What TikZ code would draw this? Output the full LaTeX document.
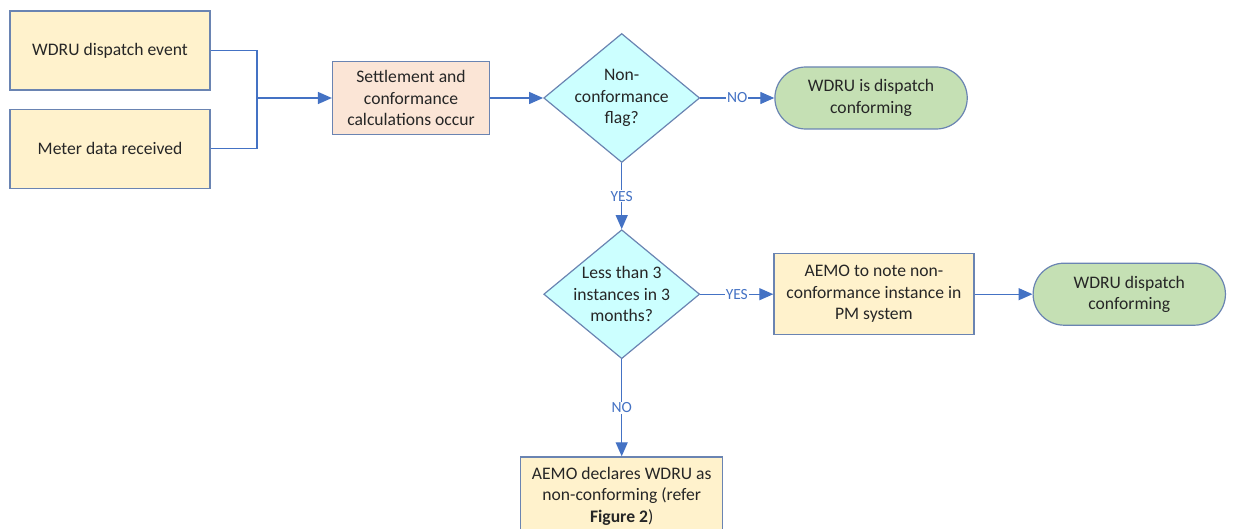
\documentclass[tikz,border=0pt]{standalone}
\usepackage{fontspec}
\setmainfont{Carlito}
\usetikzlibrary{positioning,shapes,arrows.meta}
\usepackage{xcolor}
\definecolor{edgeblue}{HTML}{4472C4}
\definecolor{boxline}{HTML}{6A84B2}
\definecolor{boxfill}{HTML}{FFF2CC}
\definecolor{calcfill}{HTML}{FBE5D6}
\definecolor{flagfill}{HTML}{CCFFFF}
\definecolor{endfill}{HTML}{C5E0B4}
\tikzset{
    box/.style={rectangle, draw=boxline, line width=1.2pt, fill=boxfill, align=center, inner sep=2pt},
    calc/.style={box, fill=calcfill},
    decision/.style={diamond, draw=boxline, line width=1.2pt, fill=flagfill, align=center,
        shape aspect=1.2, inner sep=-8pt, minimum width=156pt, minimum height=129pt},
    terminal/.style={rounded rectangle, draw=boxline, line width=1.2pt, fill=endfill, align=center,
        minimum width=199pt, minimum height=62pt},
    flow/.style={draw=edgeblue, line width=1.3pt, -{Triangle[length=14pt,width=12pt]}},
    lbl/.style={fill=white, text=edgeblue, font=\fontsize{15.5}{17}\selectfont, inner sep=1pt}
}

\begin{document}
    \begin{tikzpicture}[x=1pt, y=-1pt, font=\fontsize{17.6}{21.5}\selectfont, text=black!85]
        \useasboundingbox (0,0) rectangle (1238,529);
        \clip (0,0) rectangle (1238,529);
        \node (event) [box, minimum width=200pt, minimum height=79pt] at (110,50.5) {WDRU dispatch event};
        \node (meter) [box, minimum width=200pt, minimum height=79pt, below=18pt of event] {Meter data received};
        \coordinate (join) at (257,98);
        \node (settle) [calc, minimum width=157pt, minimum height=73pt] at (411,98) {Settlement and\\conformance\\calculations occur};
        \node (flag) [decision, right=53pt of settle] {Non-\\conformance\\flag?};
        \node (ok) [terminal, right=74pt of flag] {WDRU is dispatch\\conforming};
        \node (count) [decision, below=66pt of flag] {Less than 3\\instances in 3\\months?};
        \node (note) [box, minimum width=200pt, minimum height=81pt, right=73pt of count] {AEMO to note non-\\conformance instance in\\PM system};
        \node (done) [terminal, right=58pt of note] {WDRU dispatch\\conforming};
        \node (declare) [box, minimum width=202pt, minimum height=78pt, below=97pt of count] {AEMO declares WDRU as\\non-conforming (refer\\\textbf{Figure 2})};
        \draw[flow, -] (event.east) -| (join);
        \draw[flow, -] (meter.east) -| (join);
        \draw[flow] (join) -- (settle);
        \draw[flow]
        (settle) edge[flow] (flag)
        (flag) edge[flow] node[lbl] {NO} (ok)
        (flag) edge[flow] node[lbl] {YES} (count)
        (count) edge[flow] node[lbl] {YES} (note)
        (note) edge[flow] (done)
        (count) edge[flow] node[lbl] {NO} (declare);
    \end{tikzpicture}
\end{document}
